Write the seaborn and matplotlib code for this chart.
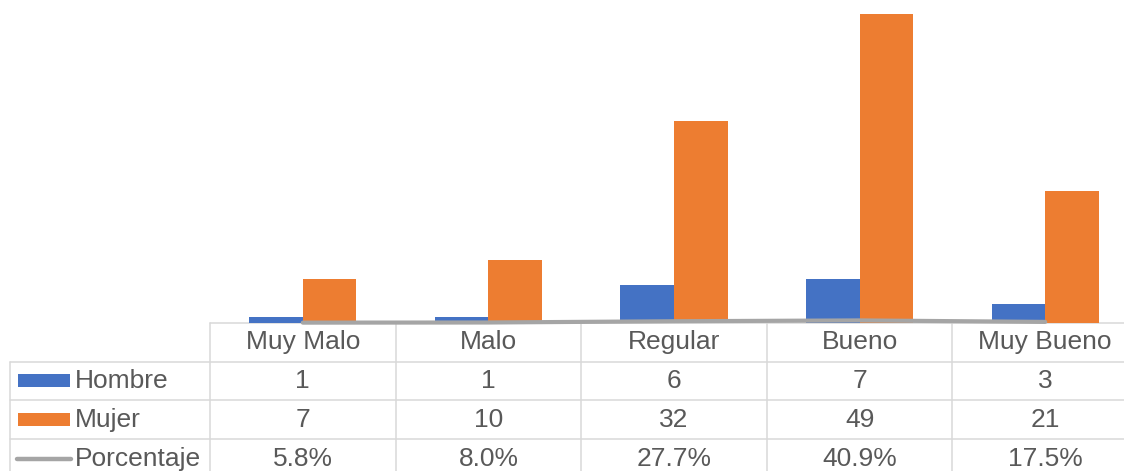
import matplotlib
matplotlib.use("Agg")
import matplotlib.pyplot as plt
import seaborn as sns
import pandas as pd

categories = ["Muy Malo", "Malo", "Regular", "Bueno", "Muy Bueno"]
hombre = [1, 1, 6, 7, 3]
mujer = [7, 10, 32, 49, 21]
porcentaje = [0.058, 0.080, 0.277, 0.409, 0.175]
pct_labels = ["5.8%", "8.0%", "27.7%", "40.9%", "17.5%"]
series_names = ["Hombre", "Mujer", "Porcentaje"]

BLUE, ORANGE, GRAY = "#4472C4", "#ED7D31", "#A5A5A5"
TXT, GRID = "#595959", "#D9D9D9"

sns.set_theme(style="white")
plt.rcParams["font.family"] = ["Liberation Sans", "DejaVu Sans"]

W, H = 1124, 471
fig = plt.figure(figsize=(W / 100, H / 100), dpi=100)
fig.patch.set_facecolor("white")

df = pd.DataFrame({
    "cat": categories * 2,
    "val": hombre + mujer,
    "serie": ["Hombre"] * 5 + ["Mujer"] * 5,
})

# data table in pixel coordinates (drawn underneath the chart)
tab = fig.add_axes([0, 0, 1, 1], zorder=0)
tab.set_xlim(0, W)
tab.set_ylim(H, 0)
tab.axis("off")

ax_left, ax_bottom_px = 210, 323
ax = fig.add_axes([ax_left / W, (H - ax_bottom_px) / H, (W - ax_left) / W, ax_bottom_px / H],
                  zorder=5)
sns.barplot(data=df, x="cat", y="val", hue="serie", order=categories,
            palette={"Hombre": BLUE, "Mujer": ORANGE}, width=0.577,
            linewidth=0, saturation=1, ax=ax, legend=False, errorbar=None)
ax.plot(range(len(categories)), porcentaje, color=GRAY, lw=3,
        solid_capstyle="round", zorder=5, clip_on=False)
cat_w = 185.6
ax.set_xlim(-0.5, -0.5 + (W - ax_left) / cat_w)
ax.set_ylim(0, 51.2)
ax.axis("off")

col_edges = [ax_left + cat_w * i for i in range(len(categories) + 1)]
row_edges = [322.7, 361.7, 400.0, 439.3, 478.0]
left_edge = 10
lw = 1.1
tab.plot([ax_left, W], [row_edges[0]] * 2, color=GRID, lw=lw)
for y in row_edges[1:4]:
    tab.plot([left_edge, W], [y, y], color=GRID, lw=lw)
tab.plot([left_edge, left_edge], [row_edges[1], H + 5], color=GRID, lw=lw)
for x in col_edges:
    tab.plot([x, x], [row_edges[0], H + 5], color=GRID, lw=lw)

fs = 19
rows = [hombre, mujer, pct_labels]
for i, c in enumerate(categories):
    xc = (col_edges[i] + col_edges[i + 1]) / 2
    tab.text(xc, (row_edges[0] + row_edges[1]) / 2, c, ha="center", va="center",
             fontsize=fs, color=TXT)
    for r, vals in enumerate(rows):
        yc = (row_edges[r + 1] + row_edges[r + 2]) / 2
        tab.text(xc, yc, str(vals[i]), ha="center", va="center", fontsize=fs, color=TXT)

for r, name in enumerate(series_names):
    yc = (row_edges[r + 1] + row_edges[r + 2]) / 2
    if r < 2:
        col = BLUE if r == 0 else ORANGE
        tab.add_patch(plt.Rectangle((18, yc - 6.5), 52, 13, color=col, lw=0))
    else:
        tab.plot([17, 71], [yc, yc], color=GRAY, lw=3.2, solid_capstyle="round")
    tab.text(75, yc, name, ha="left", va="center", fontsize=fs, color=TXT)

fig.savefig("out.png", dpi=100, facecolor="white")
